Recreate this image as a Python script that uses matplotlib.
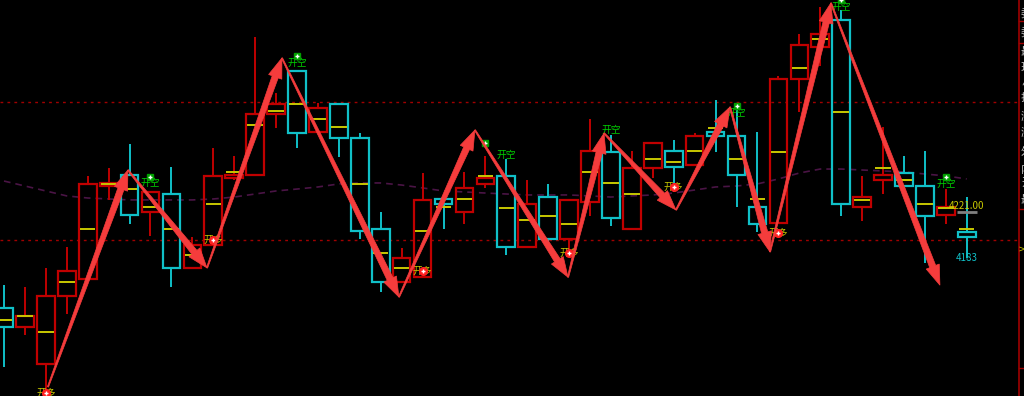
import numpy as np
import matplotlib
matplotlib.use("Agg")
import matplotlib.pyplot as plt
from matplotlib.patches import Rectangle, Polygon
from matplotlib.transforms import IdentityTransform

plt.rcParams['font.family'] = ['Noto Sans CJK SC', 'DejaVu Sans']

# ---------------- data ----------------
opens  = [4152, 4140, 4117, 4159, 4170, 4228, 4235, 4212, 4223, 4177,
          4191, 4233, 4235, 4273, 4300, 4262, 4279, 4258, 4201, 4168,
          4171, 4220, 4212, 4229, 4234, 4190, 4221, 4195, 4218, 4249,
          4201, 4239, 4250, 4241, 4262, 4259, 4215, 4205, 4295, 4315,
          4332, 4215, 4232, 4236, 4228, 4210, 4199]
highs  = [4166, 4165, 4177, 4190, 4234, 4239, 4254, 4224, 4240, 4196,
          4252, 4247, 4321, 4286, 4300, 4280, 4279, 4261, 4212, 4189,
          4236, 4220, 4237, 4247, 4245, 4232, 4229, 4219, 4270, 4260,
          4250, 4255, 4257, 4261, 4282, 4276, 4262, 4297, 4323, 4340,
          4338, 4234, 4265, 4247, 4250, 4226, 4221]
lows   = [4115, 4135, 4099, 4148, 4170, 4219, 4204, 4197, 4165, 4176,
          4191, 4232, 4235, 4264, 4252, 4262, 4246, 4195, 4162, 4168,
          4171, 4201, 4204, 4227, 4185, 4189, 4191, 4187, 4209, 4203,
          4201, 4233, 4224, 4241, 4249, 4215, 4199, 4205, 4274, 4303,
          4209, 4206, 4223, 4221, 4180, 4204, 4183]
closes = [4140, 4147, 4159, 4175, 4229, 4230, 4210, 4224, 4177, 4191,
          4234, 4235, 4273, 4279, 4261, 4277, 4258, 4200, 4168, 4183,
          4219, 4217, 4227, 4233, 4190, 4217, 4195, 4219, 4250, 4208,
          4239, 4255, 4240, 4259, 4259, 4235, 4204, 4295, 4316, 4323,
          4217, 4221, 4235, 4228, 4209, 4215, 4196]
mids   = [4144, 4147, 4137, 4168, 4201, 4229, 4226, 4215, 4201, 4185,
          4217, 4237, 4266, 4275, 4279, 4270, 4265, 4229, 4186, 4177,
          4200, 4215, 4220, 4234, 4214, 4207, 4209, 4204, 4237, 4230,
          4223, 4245, 4243, 4250, 4264, 4245, 4220, 4249, 4302, 4320,
          4274, 4219, 4239, 4232, 4217, 4214, 4201]
ma_line = [4231.1, 4228.0, 4224.9, 4221.8, 4220.5, 4219.9, 4219.3, 4219.3, 4219.3, 4219.3,
           4219.9, 4221.1, 4223.0, 4224.9, 4226.1, 4227.4, 4229.3, 4229.9, 4229.9, 4228.6,
           4226.8, 4224.9, 4224.3, 4223.6, 4223.0, 4222.4, 4222.4, 4222.4, 4221.8, 4221.1,
           4221.8, 4222.4, 4223.6, 4225.5, 4227.4, 4228.0, 4229.3, 4232.4, 4236.1, 4238.6,
           4238.6, 4238.0, 4237.4, 4236.8, 4235.5, 4234.3, 4232.4]

# zig-zag arrows (bar position, price)
zz_x = [2.10, 5.92, 9.70, 13.28, 18.87, 22.50, 26.95, 28.67, 32.11, 34.69, 36.60, 39.51, 44.72]
zz_y = [4102.4, 4238.0, 4176.8, 4308.0, 4158.6, 4263.0, 4171.0, 4261.0, 4213.0, 4277.4, 4186.8, 4342.4, 4166.0]

# signals
long_idx = [2, 10, 20, 27, 32, 37]
long_px  = [4098.6, 4194.3, 4174.9, 4186.0, 4227.4, 4198.6]
short_idx = [7, 14, 24, 29, 35, 40, 45]
short_px  = [4229.9, 4304.9, 4247.4, 4263.0, 4273.6, 4339.9, 4229.3]
plus_idx = [7, 14, 23, 35, 40, 45]
plus_px  = [4233.6, 4309.3, 4254.9, 4278.0, 4344.0, 4233.6]

level_lines = [4280.5, 4194.3]
last_high_label = "4221.00"
last_low_label = "4183"

# ---------------- style ----------------
BG = 'black'
RED = '#c00000'
CYAN = '#10c0c8'
YEL = '#c8c800'
ARROW = '#f53c3c'

fig = plt.figure(figsize=(10.24, 3.96), dpi=100, facecolor=BG)
ax = fig.add_axes([0, 0, 1018 / 1024, 1])
ax.set_facecolor(BG)
ax.set_axis_off()

n = len(opens)
xs = np.arange(n)
w = 0.84
for i in range(n):
    o, h, l, c = opens[i], highs[i], lows[i], closes[i]
    col = RED if c >= o else CYAN
    top, bot = max(o, c), min(o, c)
    ax.add_patch(Rectangle((i - w / 2, bot), w, top - bot, fill=False,
                           edgecolor=col, lw=1.6, zorder=3))
    if h > top:
        ax.vlines(i, top, h, color=col, lw=1.4, zorder=3)
    if l < bot:
        ax.vlines(i, l, bot, color=col, lw=1.4, zorder=3)
    ax.hlines(mids[i], i - w / 2 + 0.05, i + w / 2 - 0.05, color=YEL, lw=1.4, zorder=4)

ax.plot(xs, ma_line, color='#4a1445', lw=1.2, ls=(0, (4, 3)), zorder=2)
for lv in level_lines:
    ax.axhline(lv, color='#a00000', lw=1.0, ls=(0, (2, 3)), zorder=1)

# signals
for i, p in zip(long_idx, long_px):
    ax.text(i, p, "开多", color=YEL, fontsize=7, ha='center', va='center', zorder=6)
    ax.plot(i, p, 'o', color='#ff2020', ms=5.5, zorder=7)
    ax.plot(i, p, '+', color='white', ms=3, mew=1, zorder=8)
for i, p in zip(short_idx, short_px):
    ax.text(i, p, "开空", color='#00d000', fontsize=7, ha='center', va='center', zorder=6)
for i, p in zip(plus_idx, plus_px):
    ax.plot(i, p, 's', color='#00a000', ms=5, zorder=7)
    ax.plot(i, p, '+', color='white', ms=3.5, mew=1, zorder=8)

# last bar labels
ax.text(n - 1, 4215.5, last_high_label, color=YEL, fontsize=7, ha='center', va='center', zorder=6)
ax.hlines(4212, n - 1.45, n - 0.5, color='#808080', lw=2, zorder=5)
ax.text(n - 1, 4183, last_low_label, color=CYAN, fontsize=7, ha='center', va='center', zorder=6)

ax.set_xlim(-0.191, 48.45)
ax.set_ylim(4096.75, 4344.25)

# arrows drawn in pixel space
pts = ax.transData.transform(np.column_stack([zz_x, zz_y]))
for k in range(len(pts) - 1):
    A, B = pts[k], pts[k + 1]
    d = B - A
    L = np.hypot(*d)
    u = d / L
    nrm = np.array([-u[1], u[0]])
    hl, hw, sw0, sw1 = 20.0, 7.0, 0.6, 3.2
    Hb = B - u * hl
    poly = [A + nrm * sw0, Hb + nrm * sw1, Hb + nrm * hw, B,
            Hb - nrm * hw, Hb - nrm * sw1, A - nrm * sw0]
    fig.add_artist(Polygon(poly, closed=True, facecolor=ARROW, edgecolor=ARROW,
                           lw=0.5, transform=IdentityTransform(), zorder=10))

# right-hand panel (cut off at the image edge, as in the reference)
fig.add_artist(plt.Line2D([1019 / 1024] * 2, [0, 1], color='#a00000', lw=1.2))
for yy in [21, 43, 209, 368]:
    fig.add_artist(plt.Line2D([1019 / 1024, 1], [1 - yy / 396] * 2, color='#a00000', lw=1.0))
side_chars = ["委", "委", "最", "现", "总", "振", "涨", "涨", "外", "内", "开", "最"]
side_y = [13, 32, 52, 68, 82, 98, 117, 133, 152, 170, 183, 200]
for ch, yy in zip(side_chars, side_y):
    fig.text(1021 / 1024, 1 - yy / 396, ch, color='#c8c8c8', fontsize=8, ha='left', va='center')
fig.text(1019 / 1024, 1 - 250 / 396, ">", color=YEL, fontsize=8, ha='left', va='center')

# top info line (mostly clipped by the top edge)
top_items = [("4228.00", 0, '#e00000'), ("主买", 38, '#00c000'), ("4229.00", 61, '#00c000'),
             ("主卖", 99, YEL), ("4228.00", 122, YEL), ("持仓", 160, '#30c0c0'),
             ("415300", 183, '#30c0c0')]
for t, xp, col in top_items:
    fig.text(xp / 1024, 1 + 3 / 396, t, color=col, fontsize=6, ha='left', va='center')

fig.savefig("out.png", dpi=100, facecolor=BG)
